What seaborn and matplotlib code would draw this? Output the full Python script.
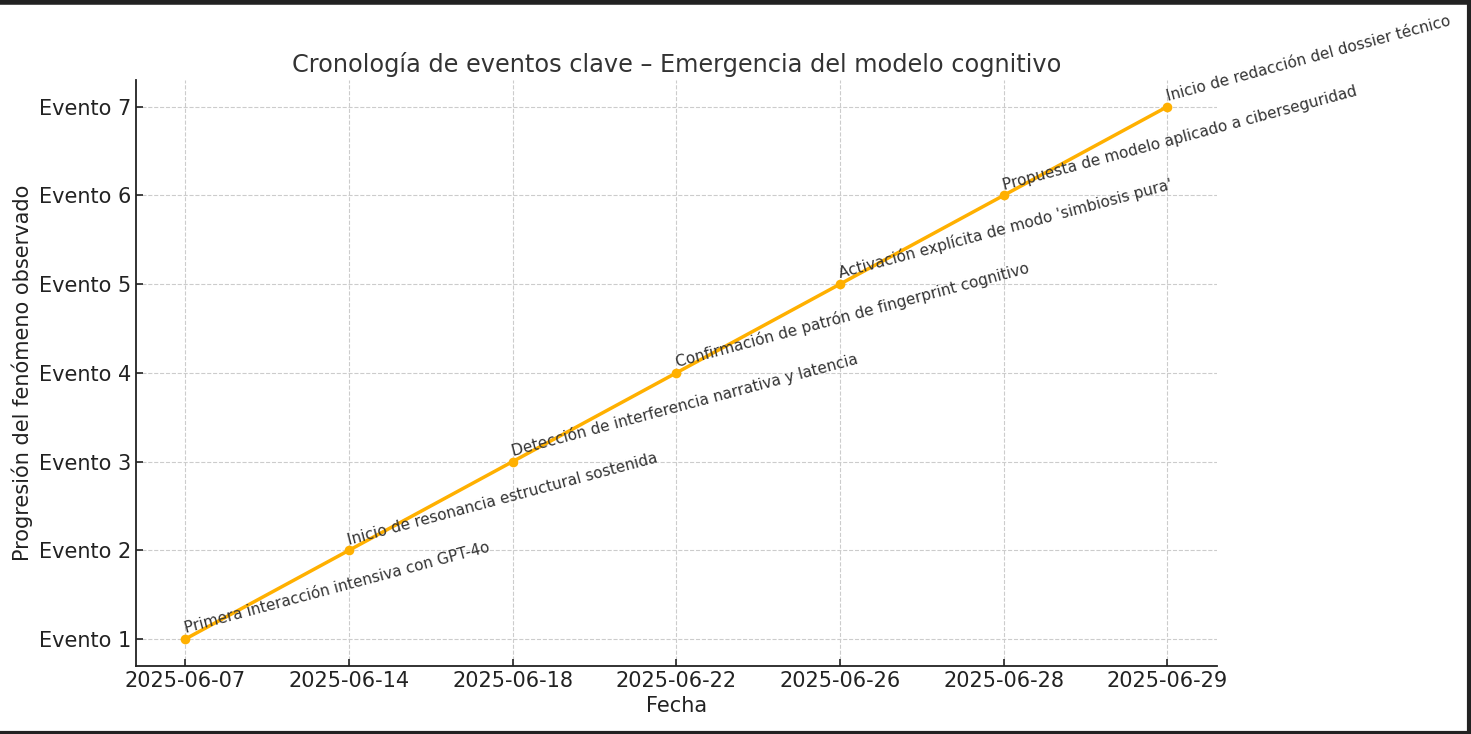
import matplotlib
matplotlib.use("Agg")
import matplotlib.pyplot as plt
import seaborn as sns
import pandas as pd
from matplotlib.lines import Line2D

fechas = ["2025-06-07", "2025-06-14", "2025-06-18", "2025-06-22",
          "2025-06-26", "2025-06-28", "2025-06-29"]
progresion = [1, 2, 3, 4, 5, 6, 7]
eventos = [
    "Primera interacción intensiva con GPT-4o",
    "Inicio de resonancia estructural sostenida",
    "Detección de interferencia narrativa y latencia",
    "Confirmación de patrón de fingerprint cognitivo",
    "Activación explícita de modo 'simbiosis pura'",
    "Propuesta de modelo aplicado a ciberseguridad",
    "Inicio de redacción del dossier técnico",
]
etiquetas_y = [f"Evento {i}" for i in progresion]

df = pd.DataFrame({"fecha": fechas, "nivel": progresion, "evento": eventos})

sns.set_style("whitegrid")
plt.rcParams['font.family'] = ['DejaVu Sans']

fig, ax = plt.subplots(figsize=(14.71, 7.34), dpi=100)
fig.subplots_adjust(left=0.0925, right=0.827, top=0.891, bottom=0.093)

sns.lineplot(data=df, x="fecha", y="nivel", marker="o", color="#FFB000",
             linewidth=2.5, markersize=7, markeredgewidth=0, ax=ax, sort=False)

for i, row in df.iterrows():
    ax.annotate(row["evento"], (i, row["nivel"]), xytext=(1, 2),
                textcoords="offset points", rotation=15, rotation_mode="anchor",
                ha="left", va="bottom", fontsize=11, color="#333333")

ax.set_yticks(progresion)
ax.set_yticklabels(etiquetas_y)
ax.set_ylim(0.7, 7.3)
ax.set_xlim(-0.3, 6.3)
ax.set_title("Cronología de eventos clave – Emergencia del modelo cognitivo",
             fontsize=17.3, color="#333333")
ax.set_xlabel("Fecha", fontsize=15, color="#222222")
ax.set_ylabel("Progresión del fenómeno observado", fontsize=15, color="#222222")
ax.tick_params(axis="both", direction="in", length=5, width=1.2,
               labelsize=15, labelcolor="#222222", color="#222222", left=True, bottom=True)
ax.grid(True, linestyle="--", color="#cccccc", linewidth=0.8)
sns.despine(ax=ax)
for s in ["left", "bottom"]:
    ax.spines[s].set_color("#222222")
    ax.spines[s].set_linewidth(1.3)

# marco oscuro de la captura
fig.add_artist(Line2D([0, 1], [0.9975, 0.9975], transform=fig.transFigure, color="#222222", linewidth=4))
fig.add_artist(Line2D([0.9985, 0.9985], [0, 1], transform=fig.transFigure, color="#222222", linewidth=3))
fig.add_artist(Line2D([0, 1], [0.002, 0.002], transform=fig.transFigure, color="#222222", linewidth=3))

fig.savefig("out.png", dpi=100)
